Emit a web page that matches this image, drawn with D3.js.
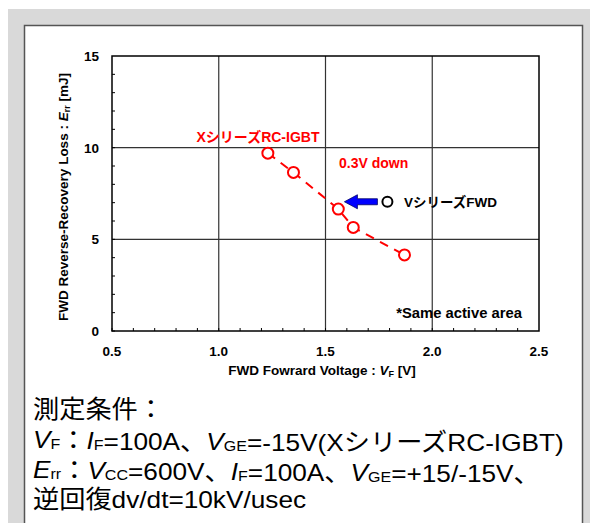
<!DOCTYPE html>
<html>
<head>
<meta charset="utf-8">
<script src="https://cdn.jsdelivr.net/npm/d3@7"></script>
<style>
  body { margin: 0; background: #fff; }
  svg text { font-family: 'Liberation Sans', Arial, 'Noto Sans CJK JP', sans-serif; }
  .bold { font-weight: bold; }
</style>
</head>
<body>
<div id="chart"></div>
<script>
// X series RC-IGBT measured points (VF [V], Err [mJ])
var xSeriesVf  = [1.23, 1.35, 1.56, 1.63, 1.87];
var xSeriesErr = [9.7, 8.65, 6.65, 5.65, 4.15];
// V series FWD reference point
var vSeriesVf  = [1.79];
var vSeriesErr = [7.05];

var xTicks = [0.5, 1.0, 1.5, 2.0, 2.5];
var yTicks = [0, 5, 10, 15];

var W = 590, H = 523;
var plot = {left: 112, right: 539, top: 56, bottom: 331};

var svg = d3.select("#chart").append("svg")
    .attr("width", W).attr("height", H);

// grey frame + white panel
svg.append("rect").attr("x", 8).attr("y", 9).attr("width", W - 8).attr("height", H - 9)
    .attr("fill", "#d9d9d9");
svg.append("rect").attr("x", 24.5).attr("y", 25.5).attr("width", 558).attr("height", 520)
    .attr("fill", "#fff").attr("stroke", "#555").attr("stroke-width", 1.5);

var x = d3.scaleLinear().domain([0.5, 2.5]).range([plot.left, plot.right]);
var y = d3.scaleLinear().domain([0, 15]).range([plot.bottom, plot.top]);

// gridlines
svg.append("g").selectAll("line").data(xTicks.slice(1, -1)).join("line")
    .attr("x1", d => x(d)).attr("x2", d => x(d))
    .attr("y1", plot.top).attr("y2", plot.bottom)
    .attr("stroke", "#333").attr("stroke-width", 1.2);
svg.append("g").selectAll("line").data(yTicks.slice(1, -1)).join("line")
    .attr("x1", plot.left).attr("x2", plot.right)
    .attr("y1", d => y(d)).attr("y2", d => y(d))
    .attr("stroke", "#333").attr("stroke-width", 1.2);

// minor ticks (inside)
svg.append("g").selectAll("line").data(d3.range(0, 15, 1)).join("line")
    .attr("x1", plot.left).attr("x2", plot.left + 3)
    .attr("y1", d => y(d)).attr("y2", d => y(d))
    .attr("stroke", "#000");
svg.append("g").selectAll("line").data(d3.range(5, 25, 1).map(d => d / 10)).join("line")
    .attr("x1", d => x(d)).attr("x2", d => x(d))
    .attr("y1", plot.bottom).attr("y2", plot.bottom - 3)
    .attr("stroke", "#000");

// plot border
svg.append("rect").attr("x", plot.left).attr("y", plot.top)
    .attr("width", plot.right - plot.left).attr("height", plot.bottom - plot.top)
    .attr("fill", "none").attr("stroke", "#000").attr("stroke-width", 1.5);

// tick labels
svg.append("g").selectAll("text").data(xTicks).join("text")
    .attr("class", "bold").attr("x", d => x(d)).attr("y", plot.bottom + 25)
    .attr("text-anchor", "middle").attr("font-size", 13.5)
    .text(d => d3.format(".1f")(d));
svg.append("g").selectAll("text").data(yTicks).join("text")
    .attr("class", "bold").attr("x", plot.left - 13).attr("y", d => y(d) + 5)
    .attr("text-anchor", "end").attr("font-size", 13.5)
    .text(d => d);

// axis titles
var xt = svg.append("text").attr("class", "bold").attr("x", 322).attr("y", 375)
    .attr("text-anchor", "middle").attr("font-size", 13.5);
xt.append("tspan").text("FWD Fowrard Voltage :  ");
xt.append("tspan").attr("font-style", "italic").text("V");
xt.append("tspan").attr("font-size", 9).attr("dy", 2).text("F");
xt.append("tspan").attr("dy", -2).text(" [V]");

var yt = svg.append("text").attr("class", "bold")
    .attr("transform", "translate(68,197) rotate(-90)")
    .attr("text-anchor", "middle").attr("font-size", 13.5);
yt.append("tspan").text("FWD Reverse-Recovery Loss : ");
yt.append("tspan").attr("font-style", "italic").text("E");
yt.append("tspan").attr("font-size", 9).attr("dy", 2).text("rr");
yt.append("tspan").attr("dy", -2).text(" [mJ]");

// dashed series line + markers
var line = d3.line().x(d => x(d[0])).y(d => y(d[1]));
var pts = d3.zip(xSeriesVf, xSeriesErr);
svg.append("path").attr("d", line(pts)).attr("fill", "none")
    .attr("stroke", "#ff0000").attr("stroke-width", 2).attr("stroke-dasharray", "9,7");
svg.append("g").selectAll("circle").data(pts).join("circle")
    .attr("cx", d => x(d[0])).attr("cy", d => y(d[1])).attr("r", 5.5)
    .attr("fill", "#fff").attr("stroke", "#ff0000").attr("stroke-width", 2);
svg.append("g").selectAll("circle").data(d3.zip(vSeriesVf, vSeriesErr)).join("circle")
    .attr("cx", d => x(d[0])).attr("cy", d => y(d[1])).attr("r", 5)
    .attr("fill", "#fff").attr("stroke", "#000").attr("stroke-width", 2);

// blue arrow
var ay = y(vSeriesErr[0]);
var ax = x(vSeriesVf[0]) - 10;
svg.append("path")
    .attr("d", "M" + (ax - 33) + "," + ay +
               " L" + (ax - 20) + "," + (ay - 7) +
               " L" + (ax - 20) + "," + (ay - 3) +
               " L" + ax + "," + (ay - 3) +
               " L" + ax + "," + (ay + 3) +
               " L" + (ax - 20) + "," + (ay + 3) +
               " L" + (ax - 20) + "," + (ay + 7) + " Z")
    .attr("fill", "#0000ff").attr("stroke", "#000066").attr("stroke-width", 0.8);

// annotations
svg.append("text").attr("class", "bold").attr("x", 258).attr("y", 142)
    .attr("text-anchor", "middle").attr("font-size", 14).attr("fill", "#ff0000")
    .text("XシリーズRC-IGBT");
svg.append("text").attr("class", "bold").attr("x", 339).attr("y", 168)
    .attr("font-size", 14).attr("fill", "#ff0000").text("0.3V down");
svg.append("text").attr("class", "bold").attr("x", 404).attr("y", 207)
    .attr("font-size", 13.5).attr("fill", "#000").text("VシリーズFWD");
svg.append("text").attr("class", "bold").attr("x", 522).attr("y", 318)
    .attr("text-anchor", "end").attr("font-size", 14.8).attr("fill", "#000")
    .text("*Same active area");

// measurement conditions (glyphs are a little wider than tall in the source)
var fs = 24.5, sub = 15, sx = 1.07;
var c = svg.append("g").attr("font-size", fs);
function condLine(yPos) {
  return c.append("text").attr("transform", "translate(33," + yPos + ") scale(" + sx + ",1)");
}
function addSub(t, main, s) {
  t.append("tspan").attr("font-style", "italic").text(main);
  t.append("tspan").attr("font-size", sub).attr("dy", 1).text(s);
  t.append("tspan").attr("dy", -1).text("");
}
condLine(418).text("測定条件：");

var l2 = condLine(448);
addSub(l2, "V", "F");
l2.append("tspan").text("：");
addSub(l2, "I", "F");
l2.append("tspan").text("=100A、");
addSub(l2, "V", "GE");
l2.append("tspan").text("=-15V(XシリーズRC-IGBT)");

var l3 = condLine(478);
addSub(l3, "E", "rr");
l3.append("tspan").text("：");
addSub(l3, "V", "CC");
l3.append("tspan").text("=600V、");
addSub(l3, "I", "F");
l3.append("tspan").text("=100A、");
addSub(l3, "V", "GE");
l3.append("tspan").text("=+15/-15V、");

condLine(508).text("逆回復dv/dt=10kV/usec");
</script>
</body>
</html>
